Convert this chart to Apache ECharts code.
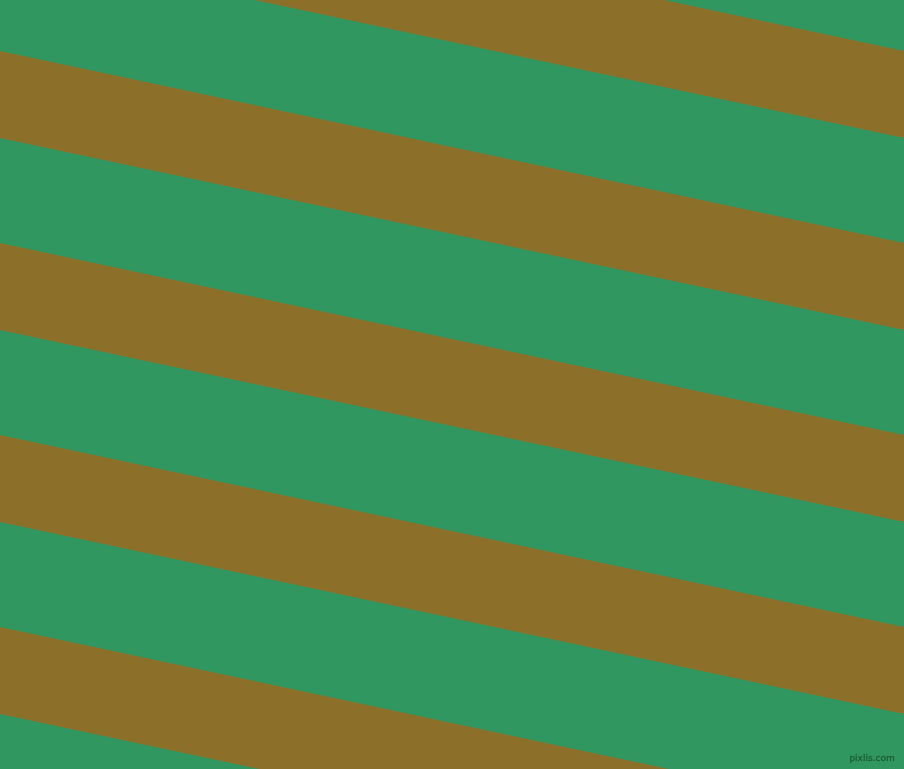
<!DOCTYPE html>
<html>
<head>
<meta charset="utf-8">
<script src="https://cdn.jsdelivr.net/npm/echarts@6/dist/echarts.min.js"></script>
<style>
  html, body { margin: 0; padding: 0; background: #319761; }
  #stripes { width: 904px; height: 769px; }
</style>
</head>
<body>
<div id="stripes"></div>
<script>
// upper edge of each brown band where it meets the left side (y, px from top)
var bandTops = [-141, 51, 243, 435, 627];
// vertical thickness of a brown band
var bandDepth = [87];
// how far an edge drops from left side to right side
var bandRise = [192];
var xRange = [0, 904];
var yRange = [0, 769];

function stripes(){
    var data = bandTops.map(function (t) {
        return [t, bandDepth[0], bandRise[0]];
    });
    option = {
        backgroundColor: '#319761',
        animation: false,
        grid: { left: 0, right: 0, top: 0, bottom: 0 },
        xAxis: { type: 'value', min: xRange[0], max: xRange[1], show: false },
        yAxis: { type: 'value', min: yRange[0], max: yRange[1], inverse: true, show: false },
        series: [{
            type: 'custom',
            clip: true,
            data: data,
            renderItem: function (params, api) {
                var top = api.value(0), depth = api.value(1), rise = api.value(2);
                var pts = [
                    api.coord([xRange[0], top]),
                    api.coord([xRange[1], top + rise]),
                    api.coord([xRange[1], top + rise + depth]),
                    api.coord([xRange[0], top + depth])
                ];
                return {
                    type: 'polygon',
                    shape: { points: pts },
                    style: { fill: '#8c7029' }
                };
            }
        }],
        graphic: [{
            type: 'text',
            right: 9,
            bottom: 6,
            style: {
                text: 'pixlis.com',
                font: '9px "DejaVu Sans"',
                fill: '#1a5a35',
                stroke: '#2a7a4c',
                lineWidth: 0.6
            }
        }]
    };
    var myChart = echarts.init(document.getElementById('stripes'));
    myChart.setOption(option);
}

stripes();
</script>
</body>
</html>
